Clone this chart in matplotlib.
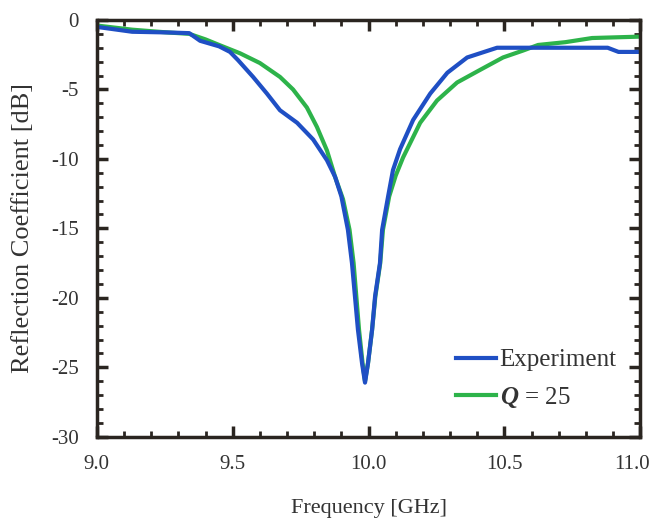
# Reflection coefficient vs frequency: experiment and Q = 25 model

import matplotlib.pyplot as plt
from matplotlib.ticker import MultipleLocator
from matplotlib.transforms import ScaledTranslation

plt.rcParams['font.family'] = ['Liberation Serif', 'DejaVu Serif']
plt.rcParams['axes.unicode_minus'] = False
plt.rcParams['mathtext.fontset'] = 'custom'
plt.rcParams['mathtext.it'] = 'Liberation Serif:italic:bold'
plt.rcParams['mathtext.rm'] = 'Liberation Serif'

# Experiment
freq_exp = [9.00, 9.13, 9.26, 9.34, 9.38, 9.45, 9.49, 9.52, 9.575, 9.626, 9.674,
            9.737, 9.796, 9.847, 9.877, 9.90, 9.924, 9.939, 9.950, 9.961, 9.976,
            9.987, 9.998, 10.013, 10.024, 10.042, 10.050, 10.072, 10.090, 10.116,
            10.164, 10.227, 10.29, 10.363, 10.41, 10.473, 10.60, 10.75, 10.88,
            10.92, 11.00]
s11_exp = [-0.5, -0.85, -0.9, -0.95, -1.5, -1.9, -2.3, -2.9, -4.1, -5.3, -6.5,
           -7.4, -8.6, -10.1, -11.3, -12.7, -15.1, -17.5, -19.9, -22.3, -24.7,
           -26.1, -24.7, -22.3, -19.9, -17.5, -15.1, -12.7, -10.8, -9.3,
           -7.2, -5.3, -3.8, -2.7, -2.4, -2.0, -2.0, -2.0, -2.0,
           -2.3, -2.3]

# Model, Q = 25
freq_q = [9.00, 9.13, 9.26, 9.34, 9.40, 9.45, 9.527, 9.60, 9.674, 9.722, 9.773,
          9.81, 9.847, 9.877, 9.906, 9.93, 9.945, 9.955, 9.965, 9.978, 9.987,
          9.998, 10.013, 10.025, 10.043, 10.053, 10.076, 10.10, 10.127, 10.19,
          10.252, 10.326, 10.41, 10.495, 10.569, 10.624, 10.724, 10.823, 11.0]
s11_q = [-0.4, -0.7, -0.9, -1.0, -1.4, -1.8, -2.4, -3.1, -4.1, -5.0, -6.3,
         -7.7, -9.4, -11.3, -12.9, -15.1, -17.5, -19.9, -22.3, -24.7, -26.0,
         -24.7, -22.3, -19.9, -17.5, -15.1, -12.7, -11.2, -9.9, -7.4,
         -5.8, -4.5, -3.6, -2.7, -2.2, -1.8, -1.6, -1.3, -1.2]

xticks = [9.0, 9.5, 10.0, 10.5, 11.0]
yticks = [0, -5, -10, -15, -20, -25, -30]

fig = plt.figure(figsize=(6.5, 5.25), dpi=100)
ax = fig.add_axes([0.149, 0.168, 0.836, 0.794])

line_q, = ax.plot(freq_q, s11_q, color='#2db34a', lw=3, label='$Q$ = 25')
line_exp, = ax.plot(freq_exp, s11_exp, color='#1f4fc4', lw=3, label='Experiment')

ax.set_xlim(9.0, 11.0)
ax.set_ylim(-30, 0)
ax.set_xticks(xticks)
ax.set_xticklabels(['%.1f' % t for t in xticks])
ax.set_yticks(yticks)
ax.set_yticklabels([str(t) for t in yticks])
ax.xaxis.set_minor_locator(MultipleLocator(0.1))
ax.yaxis.set_minor_locator(MultipleLocator(1))

ax.tick_params(which='both', direction='in', top=True, right=True,
               color='#2a2520', labelsize=15, labelcolor='#333333')
ax.tick_params(which='major', length=8, width=2.5)
ax.tick_params(which='minor', length=4, width=2)
ax.tick_params(axis='x', pad=13)
ax.tick_params(axis='y', pad=13)
for s in ax.spines.values():
    s.set_linewidth(2.5)
    s.set_color('#2a2520')

# keep the last x label inside the figure
last = ax.get_xticklabels()[-1]
last.set_transform(last.get_transform() + ScaledTranslation(-0.08, 0, fig.dpi_scale_trans))

ax.set_xlabel('Frequency [GHz]', fontsize=16, color='#333333', labelpad=18)
ax.set_ylabel('Reflection Coefficient [dB]', fontsize=19, color='#333333', labelpad=12)

ax.legend(handles=[line_exp, line_q], loc='lower right', bbox_to_anchor=(0.975, 0.04),
          frameon=False, fontsize=18, handlelength=1.6, handletextpad=0.15,
          labelspacing=0.55, labelcolor='#333333', borderaxespad=0)

fig.savefig('out.png', dpi=100)
